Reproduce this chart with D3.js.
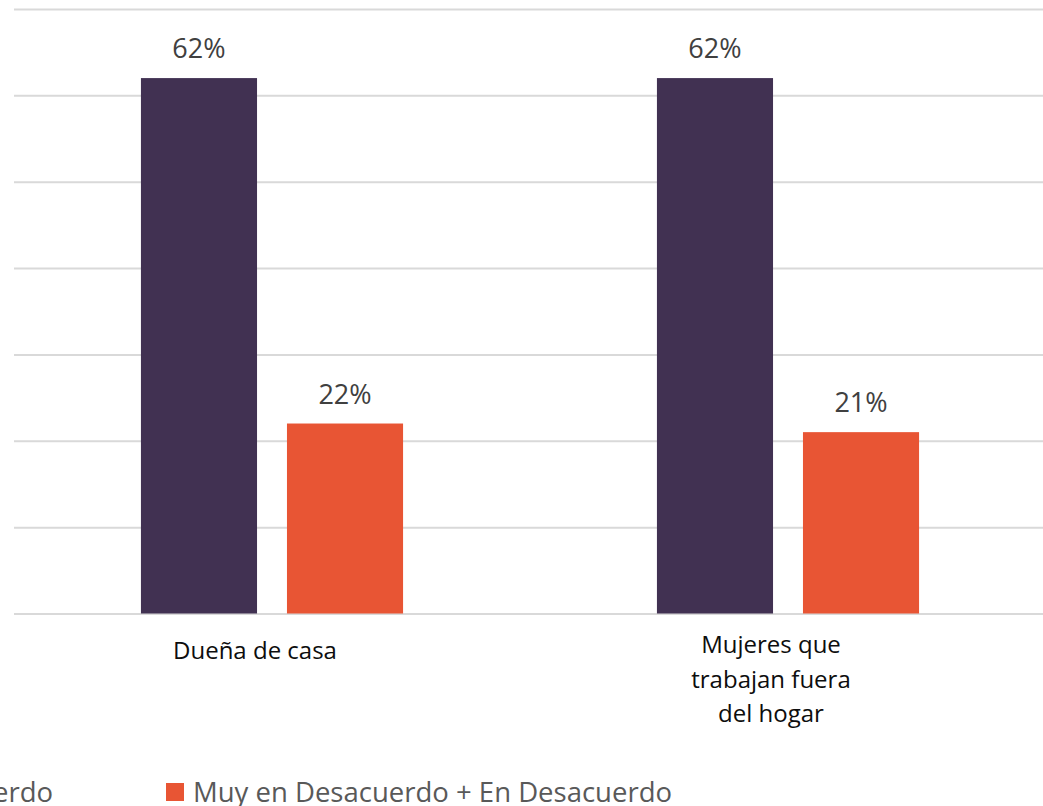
<!DOCTYPE html>
<html>
<head>
<meta charset="utf-8">
<script src="https://cdn.jsdelivr.net/npm/d3@7"></script>
<style>
  body { margin: 0; background: #fff; }
  svg { display: block; font-family: "Open Sans", sans-serif; }
  .grid line { stroke: #d9d9d9; stroke-width: 2px; }
  .grid .domain { display: none; }
</style>
</head>
<body>
<div id="chart-area"></div>
<script>
// categories and series
var categories = ["Dueña de casa", "Mujeres que trabajan fuera del hogar"];
var categoryLines = [["Dueña de casa"], ["Mujeres que", "trabajan fuera", "del hogar"]];
var seriesNames = ["Muy de Acuerdo + De Acuerdo", "Muy en Desacuerdo + En Desacuerdo"];
var seriesColors = ["#413152", "#e85534"];
var acuerdo = [0.62, 0.62];
var desacuerdo = [0.22, 0.21];
var yTicks = [0, 0.1, 0.2, 0.3, 0.4, 0.5, 0.6, 0.7];

var width = 1043, height = 806;
var plotLeft = 14, plotRight = 1046, plotTop = 9, plotBottom = 613.5;

var svg = d3.select("#chart-area")
    .append("svg")
    .attr("width", width)
    .attr("height", height);

// scales
var x0 = d3.scaleBand()
    .domain(categories)
    .range([plotLeft, plotRight])
    .paddingInner(0.492)
    .paddingOuter(0.246);

var x1 = d3.scaleBand()
    .domain(seriesNames)
    .range([0, x0.bandwidth()])
    .paddingInner(0.205);

var y = d3.scaleLinear()
    .domain([0, 0.7])
    .range([plotBottom, plotTop]);

var color = d3.scaleOrdinal().domain(seriesNames).range(seriesColors);

// gridlines
svg.append("g")
    .attr("class", "grid")
    .attr("transform", "translate(" + plotLeft + ",0)")
    .call(d3.axisLeft(y).tickValues(yTicks).tickSize(-(width - plotLeft)).tickFormat(""));

var data = categories.map(function(c, i) {
    return { cat: c, lines: categoryLines[i], values: [
        { name: seriesNames[0], value: acuerdo[i] },
        { name: seriesNames[1], value: desacuerdo[i] }
    ] };
});

var groups = svg.selectAll(".group")
    .data(data)
    .enter().append("g")
    .attr("class", "group")
    .attr("transform", function(d) { return "translate(" + x0(d.cat) + ",0)"; });

groups.selectAll("rect")
    .data(function(d) { return d.values; })
    .enter().append("rect")
    .attr("x", function(d) { return x1(d.name); })
    .attr("y", function(d) { return y(d.value); })
    .attr("width", x1.bandwidth())
    .attr("height", function(d) { return y(0) - y(d.value); })
    .attr("fill", function(d) { return color(d.name); });

// value labels
groups.selectAll(".val")
    .data(function(d) { return d.values; })
    .enter().append("text")
    .attr("class", "val")
    .attr("x", function(d) { return x1(d.name) + x1.bandwidth() / 2; })
    .attr("y", function(d) { return y(d.value) - 20; })
    .attr("text-anchor", "middle")
    .attr("font-size", "27px")
    .attr("fill", "#404040")
    .text(function(d) { return Math.round(d.value * 100) + "%"; });

// category labels
groups.each(function(d) {
    var n = d.lines.length;
    var t = d3.select(this).append("text")
        .attr("text-anchor", "middle")
        .attr("font-size", "24px")
        .attr("fill", "#0d0d0d");
    d.lines.forEach(function(line, i) {
        t.append("tspan")
            .attr("x", x0.bandwidth() / 2 - 17)
            .attr("y", 659 - (n - 1) * 3 + i * 34.5)
            .text(line);
    });
});

// legend (first entry runs off the left edge, as in the original)
var legend = svg.append("g").attr("class", "legend");

var leg1 = legend.append("g");
leg1.append("text")
    .attr("x", 53)
    .attr("y", 802)
    .attr("text-anchor", "end")
    .attr("font-size", "27.5px")
    .attr("fill", "#595959")
    .text(seriesNames[0]);

var leg2 = legend.append("g");
leg2.append("rect")
    .attr("x", 166)
    .attr("y", 783)
    .attr("width", 18)
    .attr("height", 18)
    .attr("fill", color(seriesNames[1]));
leg2.append("text")
    .attr("x", 193)
    .attr("y", 802)
    .attr("font-size", "27.5px")
    .attr("fill", "#595959")
    .text(seriesNames[1]);

var w1 = leg1.select("text").node().getComputedTextLength();
leg1.append("rect")
    .attr("x", 53 - w1 - 27)
    .attr("y", 783)
    .attr("width", 18)
    .attr("height", 18)
    .attr("fill", color(seriesNames[0]));
</script>
</body>
</html>
